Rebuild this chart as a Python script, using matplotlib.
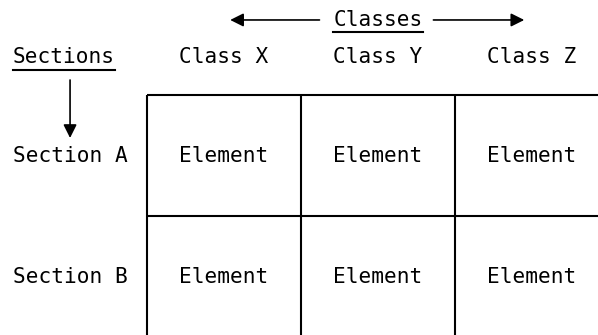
import matplotlib
matplotlib.use('Agg')
import matplotlib.pyplot as plt

# diagram content
classes = ['Class X', 'Class Y', 'Class Z']
sections = ['Section A', 'Section B']
cells = [['Element', 'Element', 'Element'],
         ['Element', 'Element', 'Element']]

plt.rcParams['font.family'] = 'DejaVu Sans Mono'
fs = 15.2

fig = plt.figure(figsize=(5.98, 3.35), dpi=100)
ax = fig.add_axes([0, 0, 1, 1])
# one column / row = one unit
ax.set_xlim(-0.955, 2.929)
ax.set_ylim(1.983, -0.785)
ax.axis('off')

ncol = len(classes)
nrow = len(sections)

# grid lines
for i in range(ncol + 1):
    ax.plot([i, i], [0, nrow + 0.5], color='black', lw=1.5, solid_capstyle='butt')
for j in range(nrow + 1):
    ax.plot([0, ncol + 0.5], [j, j], color='black', lw=1.5, solid_capstyle='butt')

# column headers
for i, c in enumerate(classes):
    ax.text(i + 0.5, -0.31, c, ha='center', va='center', fontsize=fs)

# row headers and cells
for j, s in enumerate(sections):
    ax.text(-0.87, j + 0.5, s, ha='left', va='center', fontsize=fs)
    for i in range(ncol):
        ax.text(i + 0.5, j + 0.5, cells[j][i], ha='center', va='center', fontsize=fs)

t_sec = ax.text(-0.87, -0.31, 'Sections', ha='left', va='center', fontsize=fs)
t_cls = ax.text(ncol / 2, -0.62, 'Classes', ha='center', va='center', fontsize=fs)

# underline the two titles
fig.canvas.draw()
r = fig.canvas.get_renderer()
inv = ax.transData.inverted()
for t in [t_sec, t_cls]:
    bb = t.get_window_extent(r)
    (x0, y0), (x1, y1) = inv.transform([(bb.x0, bb.y0), (bb.x1, bb.y0)])
    ax.plot([x0, x1], [y0 + 0.02, y0 + 0.02], color='black', lw=1.5)

# arrows
ap = dict(arrowstyle='-|>', color='black', lw=1.2, mutation_scale=20, shrinkA=0, shrinkB=0)
ax.annotate('', xy=(0.54, -0.62), xytext=(1.12, -0.62), arrowprops=ap)
ax.annotate('', xy=(2.45, -0.62), xytext=(1.86, -0.62), arrowprops=ap)
ax.annotate('', xy=(-0.5, 0.355), xytext=(-0.5, -0.124), arrowprops=ap)

fig.savefig('out.png', dpi=100, facecolor='white')
